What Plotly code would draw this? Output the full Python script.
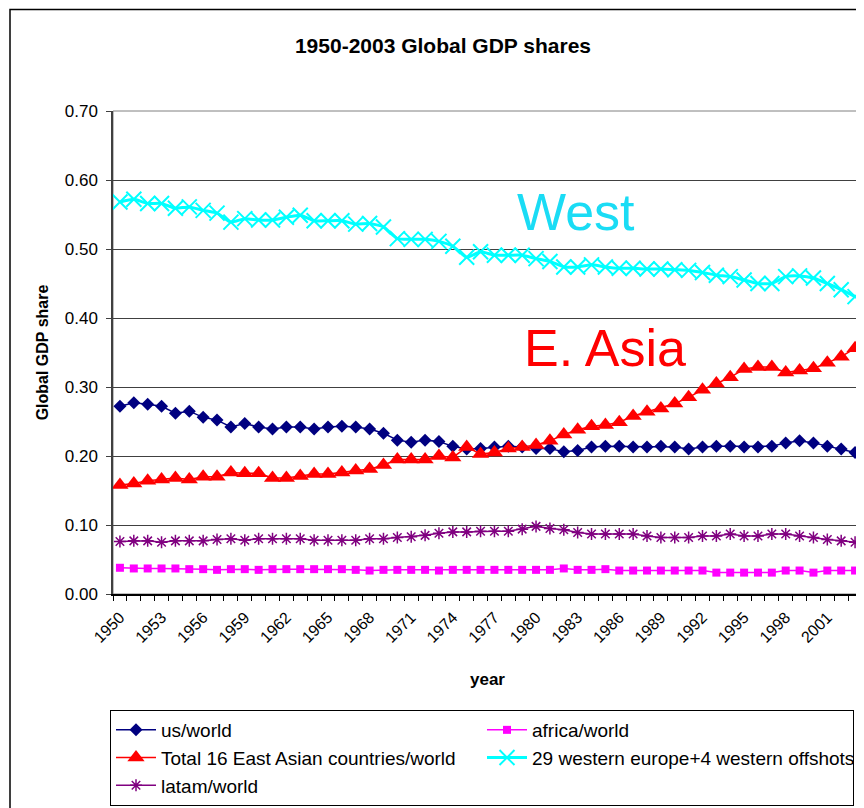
import plotly.graph_objects as go

years = list(range(1950, 2004))
tick_years = list(range(1950, 2002, 3))

us_world = [0.272, 0.277, 0.275, 0.272, 0.262, 0.265, 0.256, 0.252, 0.242, 0.247,
            0.242, 0.239, 0.242, 0.242, 0.239, 0.242, 0.243, 0.242, 0.239, 0.233,
            0.223, 0.220, 0.223, 0.221, 0.214, 0.210, 0.211, 0.213, 0.214, 0.213,
            0.211, 0.211, 0.206, 0.208, 0.213, 0.214, 0.214, 0.213, 0.213, 0.214,
            0.213, 0.210, 0.213, 0.214, 0.214, 0.213, 0.213, 0.214, 0.219, 0.222,
            0.219, 0.214, 0.210, 0.205]
africa_world = [0.038, 0.037, 0.037, 0.037, 0.037, 0.036, 0.036, 0.035, 0.036, 0.036,
                0.035, 0.036, 0.036, 0.036, 0.036, 0.036, 0.036, 0.035, 0.034, 0.035,
                0.035, 0.035, 0.035, 0.034, 0.035, 0.035, 0.035, 0.035, 0.035, 0.035,
                0.035, 0.035, 0.037, 0.035, 0.035, 0.036, 0.034, 0.034, 0.034, 0.034,
                0.034, 0.034, 0.034, 0.031, 0.031, 0.031, 0.031, 0.031, 0.034, 0.034,
                0.031, 0.034, 0.034, 0.034]
east_asia_world = [0.158, 0.160, 0.164, 0.166, 0.168, 0.166, 0.170, 0.170, 0.176, 0.175,
                   0.175, 0.168, 0.168, 0.171, 0.174, 0.174, 0.176, 0.179, 0.181, 0.187,
                   0.195, 0.195, 0.195, 0.200, 0.198, 0.213, 0.203, 0.205, 0.211, 0.213,
                   0.216, 0.222, 0.231, 0.238, 0.243, 0.245, 0.249, 0.258, 0.264, 0.269,
                   0.276, 0.285, 0.296, 0.305, 0.314, 0.326, 0.329, 0.329, 0.321, 0.324,
                   0.327, 0.335, 0.344, 0.356]
west_world = [0.568, 0.572, 0.566, 0.566, 0.559, 0.561, 0.556, 0.552, 0.539, 0.544,
              0.542, 0.542, 0.546, 0.549, 0.541, 0.541, 0.541, 0.536, 0.537, 0.532,
              0.515, 0.514, 0.514, 0.511, 0.504, 0.488, 0.496, 0.491, 0.491, 0.491,
              0.486, 0.482, 0.474, 0.474, 0.477, 0.474, 0.472, 0.472, 0.471, 0.471,
              0.470, 0.469, 0.466, 0.462, 0.460, 0.455, 0.450, 0.450, 0.460, 0.461,
              0.458, 0.450, 0.441, 0.431]
latam_world = [0.076, 0.077, 0.077, 0.075, 0.077, 0.077, 0.077, 0.079, 0.080, 0.078,
               0.080, 0.080, 0.080, 0.080, 0.078, 0.078, 0.078, 0.078, 0.080, 0.080,
               0.082, 0.083, 0.085, 0.088, 0.090, 0.090, 0.091, 0.091, 0.091, 0.094,
               0.098, 0.095, 0.093, 0.089, 0.087, 0.087, 0.087, 0.087, 0.084, 0.082,
               0.082, 0.082, 0.084, 0.084, 0.087, 0.084, 0.084, 0.087, 0.087, 0.084,
               0.082, 0.079, 0.077, 0.075]

FONT = "Liberation Sans, Arial, sans-serif"

# plot area in figure pixels (page body adds an 8px offset)
L, T, PW, PH = 105, 103, 749, 483
B = T + PH

fig = go.Figure()
fig.add_trace(go.Scatter(x=years, y=us_world, name="us/world", mode="lines+markers",
                         line=dict(color="#000080", width=1.5),
                         marker=dict(symbol="diamond", size=10, color="#000080")))
fig.add_trace(go.Scatter(x=years, y=africa_world, name="africa/world", mode="lines+markers",
                         line=dict(color="#FF00FF", width=1.5),
                         marker=dict(symbol="square", size=8, color="#FF00FF")))
fig.add_trace(go.Scatter(x=years, y=east_asia_world, name="Total 16 East Asian countries/world",
                         mode="lines+markers",
                         line=dict(color="#FF0000", width=1.5),
                         marker=dict(symbol="triangle-up", size=15, color="#FF0000")))
fig.add_trace(go.Scatter(x=years, y=west_world, name="29 western europe+4 western offshots",
                         mode="lines+markers",
                         line=dict(color="#00FFFF", width=3, shape="spline", smoothing=0.5),
                         marker=dict(symbol="x-thin-open", size=15,
                                     line=dict(color="#00FFFF", width=2))))
fig.add_trace(go.Scatter(x=years, y=latam_world, name="latam/world", mode="lines+markers",
                         line=dict(color="#800080", width=1.5),
                         marker=dict(symbol="asterisk-open", size=10,
                                     line=dict(color="#800080", width=1.5))))

# plot-area frame and outer chart border
fig.add_shape(type="rect", xref="paper", yref="paper", x0=0, x1=1, y0=0, y1=1,
              line=dict(color="#808080", width=1), layer="below")
fig.add_shape(type="rect", xref="paper", yref="paper",
              x0=(2 - L) / PW, x1=(880 - L) / PW,
              y0=(B - 830) / PH, y1=(B - 1.5) / PH,
              line=dict(color="black", width=1.5), layer="below")

fig.add_annotation(text="West", x=1982.9, y=0.554, xref="x", yref="y",
                   showarrow=False, font=dict(family=FONT, size=52, color="#1ADCF5"))
fig.add_annotation(text="E. Asia", x=1985.0, y=0.357, xref="x", yref="y",
                   showarrow=False, font=dict(family=FONT, size=52, color="#FF0000"))

fig.update_layout(
    width=864, height=808,
    margin=dict(l=L, r=864 - L - PW, t=T, b=808 - B),
    paper_bgcolor="white", plot_bgcolor="white",
    font=dict(family=FONT, color="black"),
    title=dict(text="<b>1950-2003 Global GDP shares</b>", x=435 / 864, xref="container",
               y=1 - 38 / 808, yanchor="middle", xanchor="center",
               font=dict(family=FONT, size=21, color="black")),
    showlegend=True,
    legend=dict(orientation="h", x=(102 - L) / PW, y=(B - 702) / PH,
                xanchor="left", yanchor="top",
                entrywidth=316, entrywidthmode="pixels",
                bordercolor="black", borderwidth=1, bgcolor="white",
                font=dict(family=FONT, size=19, color="black"),
                itemwidth=40, tracegroupgap=0),
)

fig.update_xaxes(
    range=[1949.5, 2003.5], tickmode="array", tickvals=tick_years,
    ticktext=[str(y) for y in tick_years], tickangle=-45,
    ticks="", showgrid=False, zeroline=False, ticklabelstandoff=6,
    showline=True, linecolor="black", linewidth=1.5,
    tickfont=dict(family=FONT, size=16, color="black"),
    minor=dict(tickmode="linear", tick0=1949.5, dtick=1, ticks="outside",
               ticklen=5, tickcolor="black", showgrid=False),
    title=dict(text="<b>year</b>", font=dict(family=FONT, size=17, color="black"), standoff=28),
)
fig.update_yaxes(
    range=[0, 0.70], tickmode="linear", tick0=0, dtick=0.1, tickformat=".2f",
    ticks="outside", ticklen=5, tickcolor="#404040", ticklabelstandoff=5,
    showgrid=True, gridcolor="#404040", gridwidth=1, zeroline=False,
    showline=True, linecolor="#404040", linewidth=1.5,
    tickfont=dict(family=FONT, size=17, color="black"),
    title=dict(text="<b>Global GDP share</b>", font=dict(family=FONT, size=16, color="black"), standoff=12),
)

fig.write_html("out.html")
